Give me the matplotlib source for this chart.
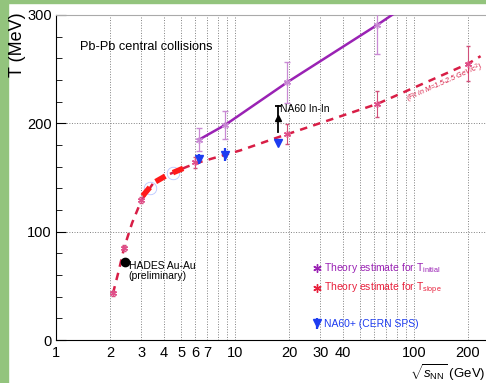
import numpy as np
import matplotlib
matplotlib.use("Agg")
from matplotlib import pyplot as plt
from matplotlib.lines import Line2D
from matplotlib.patches import Rectangle
from matplotlib.ticker import FixedLocator, NullFormatter

plt.rcParams['font.family'] = ['Liberation Sans', 'DejaVu Sans']
plt.rcParams['mathtext.fontset'] = 'custom'
plt.rcParams['mathtext.rm'] = 'Liberation Sans'
plt.rcParams['mathtext.it'] = 'Liberation Sans:italic'

# theory T_initial (purple)
init_x = [6.3, 8.8, 19.6, 62.4]
init_T = [185, 198.5, 238, 291]
init_err = [10.6, 13, 19, 27]
init_line_x = [6.3, 8.8, 19.6, 62.4, 80]
init_line_T = [185, 198.5, 238, 291, 303]

# theory T_slope (red) + fit curve
slope_x = [2.08, 2.4, 3.0, 6.0, 19.6, 62.4, 200]
slope_T = [43, 85, 129, 164, 190, 218, 255]
slope_err = [2, 3, 3, 5, 9, 12, 16]
fit_x = [2.08, 2.25, 2.4, 2.66, 3.0, 3.5, 4.15, 5.4, 6.3, 8.8, 10.7, 17.3, 19.6, 62.4, 200, 235]
fit_T = [43, 65, 85, 108, 129, 145, 152, 160, 164, 171, 175, 187, 190, 218, 255, 262]
thick_x = [3.05, 3.5, 4.15, 5.4]
thick_T = [133, 145, 152, 160]

# NA60+ projection (blue)
na60p_x = [6.3, 8.8]
na60p_T = [167, 171]
na60p_err = [5, 6]
faint_x = [3.35, 4.5]
faint_T = [140, 154]

# NA60 In-In
inin_x = 17.3
inin_T = 182
inin_lo = 192
inin_arrow = 205
inin_hi = 216

# HADES
hades_x = 2.42
hades_T = 72

xticks_major = [1, 2, 3, 4, 5, 6, 7, 10, 20, 30, 40, 100, 200]
xticks_minor = [8, 9, 50, 60, 70, 80, 90]

purple = '#9a22b4'
purple_lt = '#c98ad4'
red = '#d81e46'
blue = '#1d3cf0'

fig = plt.figure(figsize=(4.86, 3.83), dpi=100)
fig.patches.append(Rectangle((0, 0), 8/486, 1, transform=fig.transFigure, color='#93c47d', zorder=0))
fig.patches.append(Rectangle((0, 1-3/383), 1, 3/383, transform=fig.transFigure, color='#93c47d', zorder=0))
ax = fig.add_axes([56/486, 43/383, 430/486, 325/383])
ax.set_xscale('log')
ax.set_xlim(1, 252)
ax.set_ylim(0, 300)

ax.xaxis.set_major_locator(FixedLocator(xticks_major))
ax.xaxis.set_minor_locator(FixedLocator(xticks_minor))
ax.set_xticklabels([str(v) for v in xticks_major])
ax.xaxis.set_minor_formatter(NullFormatter())
ax.set_yticks([0, 100, 200, 300])
ax.set_yticks(np.arange(0, 301, 20), minor=True)
ax.tick_params(axis='x', which='both', length=0, labelsize=10.5, pad=4)
ax.tick_params(axis='y', which='major', direction='in', length=7, labelsize=10.5, pad=3)
ax.tick_params(axis='y', which='minor', direction='in', length=4)
ax.grid(True, axis='x', which='both', color='#808080', ls=':', lw=0.7)
ax.grid(True, axis='y', which='major', color='#808080', ls=':', lw=0.7)
ax.spines['right'].set_visible(False)
ax.spines['top'].set_color('#aaaaaa')
ax.spines['top'].set_linewidth(0.8)

# purple theory
ax.plot(init_line_x, init_line_T, color=purple, lw=1.8, zorder=3)
ax.errorbar(init_x, init_T, yerr=init_err, fmt='none', ecolor=purple_lt, elinewidth=0.9, capsize=2, zorder=3)
ax.plot(init_x, init_T, ls='none', marker=(6, 2, 0), ms=5, mec=purple_lt, zorder=4)

# faint blue
ax.plot(faint_x, faint_T, ls='none', marker='o', ms=9, mfc='none', mec='#b8c6ff', mew=0.6, zorder=2)

# red fit
ax.plot(fit_x, fit_T, color=red, lw=1.8, ls=(0, (3, 2.5)), zorder=3)
ax.plot(thick_x, thick_T, color='#ff1a1a', lw=4, ls=(0, (2, 1.5)), zorder=3)
ax.errorbar(slope_x, slope_T, yerr=slope_err, fmt='none', ecolor='#d0507a', elinewidth=0.8, capsize=1.5, zorder=3)
ax.plot(slope_x, slope_T, ls='none', marker=(6, 2, 0), ms=5, mec='#e0508a', zorder=4)
ax.text(148, 237, '(Fit in M=1.5-2.5 GeV/c$^2$)', color=red, fontsize=5.2, style='italic',
        rotation=24, ha='center', va='center', rotation_mode='anchor')

# NA60+
na60 = ax.errorbar(na60p_x, na60p_T, yerr=na60p_err, fmt='v', color=blue, ms=6, elinewidth=1.6,
                   capsize=0, zorder=5, label='NA60+ (CERN SPS)')
ax.plot([inin_x], [inin_T], ls='none', marker='v', color=blue, ms=6, zorder=5)

# NA60 In-In
ax.plot([inin_x, inin_x], [inin_lo, inin_hi], color='black', lw=1.3, zorder=5)
ax.plot([inin_x], [inin_arrow], ls='none', marker='^', color='black', ms=5, zorder=5)
ax.plot([inin_x], [inin_hi], ls='none', marker='_', color='black', ms=4, mew=1.3, zorder=5)
ax.text(inin_x * 1.03, 213, 'NA60 In-In', fontsize=7.5, ha='left', va='center')

# HADES
ax.plot([hades_x], [hades_T], ls='none', marker='o', color='black', ms=6, zorder=5)
ax.text(2.55, 73, 'HADES Au-Au\n(preliminary)', fontsize=7.5, ha='left', va='top', linespacing=1.0)

ax.text(0.056, 0.90, 'Pb-Pb central collisions', transform=ax.transAxes, fontsize=9.2, ha='left', va='center')

h1 = Line2D([], [], ls='none', marker=(6, 2, 0), ms=6, mec=purple)
h2 = Line2D([], [], ls='none', marker=(6, 2, 0), ms=6, mec='#e8203c')
blank = Line2D([], [], ls='none')
leg = ax.legend([h1, h2, blank, na60],
                ['Theory estimate for T$_{\\rm initial}$', 'Theory estimate for T$_{\\rm slope}$', ' ', 'NA60+ (CERN SPS)'],
                loc='upper left', bbox_to_anchor=(0.595, 0.242), frameon=False, fontsize=7.5,
                handlelength=0.9, handletextpad=0.3, borderpad=0, borderaxespad=0, labelspacing=0.55,
                labelcolor=[purple, '#e8203c', 'white', blue])

fig.text(18/486, 1 - 12/383, 'T (MeV)', rotation=90, ha='center', va='top', fontsize=13)
fig.text(485/486, 10/383, r'$\sqrt{s_{\rm NN}}$ (GeV)', ha='right', va='center', fontsize=9.5)

fig.savefig('out.png', dpi=100)
